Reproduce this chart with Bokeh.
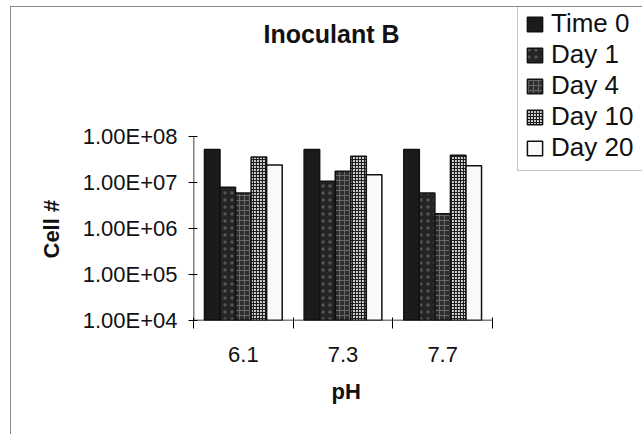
import math
from bokeh.plotting import figure
from bokeh.models import (ColumnDataSource, FixedTicker, CustomJSTickFormatter, Legend,
                          LegendItem, Label, Title, Range1d)
from bokeh.transform import dodge
from bokeh.embed import file_html
from bokeh.resources import INLINE

# Cell counts of inoculant B at three pH levels over time
ph_levels = ["6.1", "7.3", "7.7"]
series = ["Time 0", "Day 1", "Day 4", "Day 10", "Day 20"]
time0 = [5.2e7, 5.2e7, 5.2e7]
day1 = [7.9e6, 1.07e7, 5.9e6]
day4 = [5.9e6, 1.76e7, 2.1e6]
day10 = [3.6e7, 3.7e7, 3.9e7]
day20 = [2.4e7, 1.47e7, 2.3e7]
y_ticks = [1e4, 1e5, 1e6, 1e7, 1e8]
y_tick_labels = ["1.00E+04", "1.00E+05", "1.00E+06", "1.00E+07", "1.00E+08"]

FONT = "Liberation Sans"
n = len(ph_levels)
centers = [i + 0.5 for i in range(n)]
bounds = [float(i) for i in range(n + 1)]

# Frame geometry (pixels).  The frame also holds the title and the key, so the
# ranges extend beyond the category span and the top tick.
FRAME_W, FRAME_H = 449, 313
AXIS_W, AXIS_H = 299, 184          # pixel extent of categories / tick decades
x_end = n * FRAME_W / AXIS_W
decades = math.log10(y_ticks[-1] / y_ticks[0])
y_end = y_ticks[0] * 10 ** (decades * FRAME_H / AXIS_H)

def fx(px):
    return px * n / AXIS_W

def fy(px_from_bottom):
    return y_ticks[0] * 10 ** (decades * px_from_bottom / AXIS_H)

src = ColumnDataSource(dict(x=centers, t0=time0, d1=day1, d4=day4, d10=day10, d20=day20))

p = figure(frame_width=FRAME_W, frame_height=FRAME_H, output_backend="svg", toolbar_location=None,
           y_axis_type="log", x_range=Range1d(0, x_end), y_range=Range1d(y_ticks[0], y_end),
           min_border_left=182, min_border_right=0, min_border_top=0, min_border_bottom=114)
# chart area border (left and top edges)
p.margin = (6, 0, 0, 10)
p.styles = {"border-left": "1px solid #8a8a8a", "border-top": "1px solid #8a8a8a"}
p.outline_line_color = None
p.xgrid.visible = False
p.ygrid.visible = False
p.background_fill_color = "white"
p.border_fill_color = "white"
p.title.visible = False

bw = 0.156
styles = [
    ("t0", dict(fill_color="#1b1b1b")),
    ("d1", dict(fill_color="#242424", hatch_pattern="dot", hatch_color="#555555", hatch_scale=7, hatch_weight=1)),
    ("d4", dict(fill_color="#2e2e2e", hatch_pattern="cross", hatch_color="#686868", hatch_scale=5, hatch_weight=1)),
    ("d10", dict(fill_color="#d4d4d4", hatch_pattern="cross", hatch_color="#1e1e1e", hatch_scale=3, hatch_weight=1.2)),
    ("d20", dict(fill_color="#fafafa")),
]
offsets = [-2 * bw, -bw, 0, bw, 2 * bw]
items = []
for (col, st), off, name in zip(styles, offsets, series):
    r = p.vbar(x=dodge("x", off, range=p.x_range), top=col, bottom=1, width=bw, source=src,
               line_color="#111111", line_width=1.5, **st)
    items.append(LegendItem(label=name, renderers=[r]))

# axis lines over the category span and the labelled decades only
p.line(x=[bounds[0], bounds[-1]], y=[y_ticks[0], y_ticks[0]], line_color="black", line_width=1.5)
p.line(x=[bounds[0], bounds[0]], y=[y_ticks[0], y_ticks[-1]], line_color="black", line_width=1.5)

# x axis: labels at category centres, tick marks at category boundaries
xa = p.xaxis[0]
xa.ticker = FixedTicker(ticks=centers, minor_ticks=bounds)
xa.formatter = CustomJSTickFormatter(args=dict(c=centers, labs=ph_levels), code="""
    const i = c.findIndex(v => Math.abs(v - tick) < 1e-6);
    return i >= 0 ? labs[i] : '';
""")
xa.axis_line_color = None
xa.major_tick_line_color = None
xa.minor_tick_line_color = "black"
xa.minor_tick_in = 3
xa.minor_tick_out = 8
xa.major_label_text_font = FONT
xa.major_label_text_font_size = "22px"
xa.major_label_text_color = "#111111"
xa.major_label_standoff = 18

ya = p.yaxis[0]
ya.ticker = FixedTicker(ticks=y_ticks)
ya.formatter = CustomJSTickFormatter(args=dict(vals=y_ticks, labs=y_tick_labels), code="""
    const i = vals.findIndex(v => Math.abs(Math.log10(v) - Math.log10(tick)) < 1e-6);
    return i >= 0 ? labs[i] : '';
""")
ya.axis_line_color = None
ya.minor_tick_line_color = None
ya.major_tick_line_color = "black"
ya.major_tick_in = 4
ya.major_tick_out = 5
ya.major_label_text_font = FONT
ya.major_label_text_font_size = "22px"
ya.major_label_text_color = "#111111"
ya.major_label_standoff = 11

# axis titles, positioned along their axes
p.add_layout(Title(text="Cell #", align="left", vertical_align="bottom", offset=62, standoff=32,
                   text_font=FONT, text_font_style="bold", text_font_size="22px",
                   text_color="#111111"), "left")
p.add_layout(Title(text="pH", align="left", vertical_align="top", offset=138, standoff=28,
                   text_font=FONT, text_font_style="bold", text_font_size="22px",
                   text_color="#111111"), "below")

# chart title
p.add_layout(Label(x=fx(138), y=fy(287), text="Inoculant B", text_align="center",
                   text_baseline="middle", text_font=FONT, text_font_style="bold",
                   text_font_size="25px", text_color="#111111"))

legend = Legend(items=items, location=(324, FRAME_H - 164), orientation="vertical",
                label_text_font=FONT, label_text_font_size="26px", label_text_color="#111111",
                glyph_width=19, glyph_height=18, label_standoff=7, label_height=30,
                label_width=85, spacing=0, padding=7, margin=0,
                border_line_color="#8a8a8a", border_line_width=1,
                background_fill_color="white", background_fill_alpha=1)
p.add_layout(legend, "center")

open("out.html", "w").write(file_html(p, INLINE))
